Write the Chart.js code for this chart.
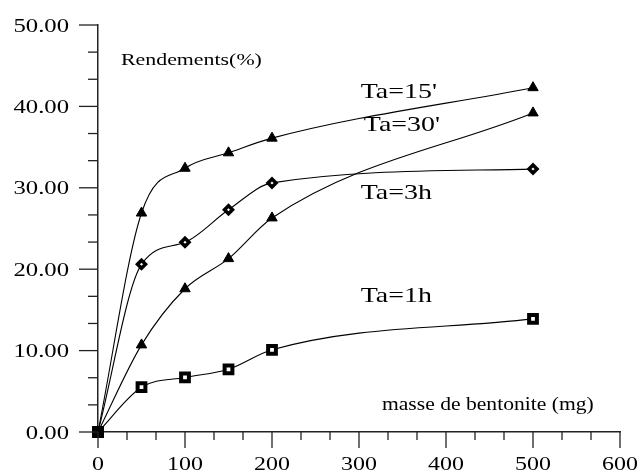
<!DOCTYPE html>
<html>
<head>
<meta charset="utf-8">
<script src="https://cdn.jsdelivr.net/npm/chart.js@4.4.1/dist/chart.umd.min.js"></script>
<style>
  body { margin: 0; background: #fff; }
</style>
</head>
<body>
<canvas id="chart" width="641" height="473"></canvas>
<script>
// masse de bentonite (mg)
const masses = [0, 50, 100, 150, 200, 500];
// rendements (%) pour chaque temps d'agitation
const ta15 = [0, 26.9, 32.4, 34.3, 36.1, 42.3];
const ta30 = [0, 10.7, 17.6, 21.3, 26.3, 39.2];
const ta3h = [0, 20.6, 23.3, 27.3, 30.6, 32.3];
const ta1h = [0, 5.5, 6.7, 7.7, 10.1, 13.9];

const xTickValues = [0, 100, 200, 300, 400, 500, 600];
const yTickValues = [0, 10, 20, 30, 40, 50];

const seriesNames = ["Ta=15'", "Ta=30'", "Ta=3h", "Ta=1h"];
const yTitle = "Rendements(%)";
const xTitle = "masse de bentonite (mg)";

const FONT = '"Liberation Serif", "Times New Roman", serif';

const toPoints = (ys) => masses.map((m, i) => ({ x: m, y: ys[i] }));

// texte un peu étiré horizontalement comme sur l'original
function stretchText(ctx, text, x, y, size, sx, align) {
  ctx.save();
  ctx.font = size + 'px ' + FONT;
  const w = ctx.measureText(text).width * sx;
  let left = x;
  if (align === 'right') left = x - w;
  else if (align === 'center') left = x - w / 2;
  ctx.translate(left, y);
  ctx.scale(sx, 1);
  ctx.textAlign = 'left';
  ctx.textBaseline = 'alphabetic';
  ctx.fillStyle = '#000';
  ctx.fillText(text, 0, 0);
  ctx.restore();
}

// ancrages des étiquettes, en unités des axes
const labelAnchors = [
  { x: 302, y: 41.0 },
  { x: 305.5, y: 37.0 },
  { x: 302, y: 28.6 },
  { x: 302, y: 16.0 },
];

const axisDecor = {
  id: 'axisDecor',
  afterDraw(chart) {
    const ctx = chart.ctx;
    const xs = chart.scales.x;
    const ys = chart.scales.y;
    const x0 = xs.left;
    const y0 = ys.bottom;

    ctx.save();
    ctx.strokeStyle = '#222';
    ctx.lineWidth = 1.3;

    // y ticks (majeurs + 2 mineurs)
    for (let i = 0; i < yTickValues.length; i++) {
      const v = yTickValues[i];
      const py = ys.getPixelForValue(v);
      ctx.beginPath();
      ctx.moveTo(x0 - 19, py);
      ctx.lineTo(x0, py);
      ctx.stroke();
      if (i < yTickValues.length - 1) {
        const step = (yTickValues[i + 1] - v) / 3;
        for (let k = 1; k < 3; k++) {
          const pm = ys.getPixelForValue(v + k * step);
          ctx.beginPath();
          ctx.moveTo(x0 - 10, pm);
          ctx.lineTo(x0, pm);
          ctx.stroke();
        }
      }
      stretchText(ctx, v.toFixed(2), x0 - 29, py + 6.5, 19, 1.3, 'right');
    }

    // x ticks
    for (let i = 0; i < xTickValues.length; i++) {
      const v = xTickValues[i];
      const px = xs.getPixelForValue(v);
      ctx.beginPath();
      ctx.moveTo(px, y0);
      ctx.lineTo(px, y0 + 16);
      ctx.stroke();
      if (i < xTickValues.length - 1) {
        const step = (xTickValues[i + 1] - v) / 3;
        for (let k = 1; k < 3; k++) {
          const pm = xs.getPixelForValue(v + k * step);
          ctx.beginPath();
          ctx.moveTo(pm, y0);
          ctx.lineTo(pm, y0 + 8);
          ctx.stroke();
        }
      }
      stretchText(ctx, String(v), px, y0 + 38, 19, 1.26, 'center');
    }
    ctx.restore();

    // titres des axes
    stretchText(ctx, yTitle, xs.getPixelForValue(26.4), ys.getPixelForValue(45.1), 17.5, 1.25, 'left');
    stretchText(ctx, xTitle, xs.getPixelForValue(326.4), ys.getPixelForValue(2.7), 18, 1.2, 'left');

    // étiquettes des courbes
    seriesNames.forEach((name, i) => {
      const a = labelAnchors[i];
      stretchText(ctx, name, xs.getPixelForValue(a.x), ys.getPixelForValue(a.y), 22, 1.27, 'left');
    });
  }
};

const originStyle = (style) => (c) => c.dataIndex === 0 ? 'rect' : style;
const originRadius = (r) => (c) => c.dataIndex === 0 ? 8.5 : r;
const originFill = (fill) => (c) => c.dataIndex === 0 ? '#000' : fill;

function makeSet(label, ys, style, radius, fill, bw) {
  return {
    label: label,
    data: toPoints(ys),
    borderColor: '#000',
    borderWidth: 1.1,
    cubicInterpolationMode: 'monotone',
    pointStyle: originStyle(style),
    pointRadius: originRadius(radius),
    pointBackgroundColor: originFill(fill),
    pointBorderColor: '#000',
    pointBorderWidth: (c) => c.dataIndex === 0 ? 0 : bw,
    clip: false,
  };
}

function draw() {
  new Chart(document.getElementById('chart'), {
    type: 'line',
    data: {
      datasets: [
        makeSet(seriesNames[0], ta15, 'triangle', 6, '#000', 1),
        makeSet(seriesNames[1], ta30, 'triangle', 6, '#000', 1),
        makeSet(seriesNames[2], ta3h, 'rectRot', 4, '#fff', 3.5),
        makeSet(seriesNames[3], ta1h, 'rect', 5.5, '#fff', 4),
      ],
    },
    options: {
      responsive: false,
      animation: false,
      layout: { padding: { left: 0, right: 21, top: 25, bottom: 0 } },
      plugins: {
        legend: { display: false },
        tooltip: { enabled: false },
      },
      scales: {
        x: {
          type: 'linear',
          min: 0,
          max: 600,
          grid: { display: false },
          border: { display: true, color: '#222', width: 1.5 },
          ticks: { display: false },
          afterFit: (s) => { s.height = 41; },
        },
        y: {
          type: 'linear',
          min: 0,
          max: 50,
          grid: { display: false },
          border: { display: true, color: '#222', width: 1.5 },
          ticks: { display: false },
          afterFit: (s) => { s.width = 98; },
        },
      },
    },
    plugins: [axisDecor],
  });
}

if (document.fonts && document.fonts.load) {
  document.fonts.load('19px "Liberation Serif"').then(draw, draw);
} else {
  draw();
}
</script>
</body>
</html>
